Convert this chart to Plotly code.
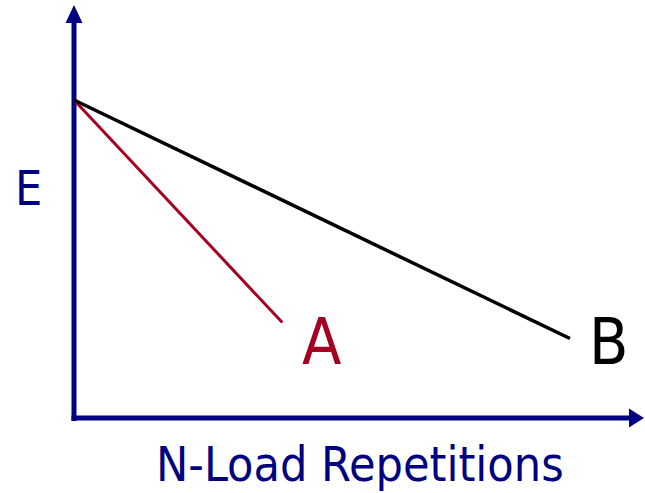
import plotly.graph_objects as go

# Data (abstract units): modulus E vs number of load repetitions N
n_start = [0.0]
e_start = [10.0]
series_names = ["A", "B"]
n_end = [4.2, 10.0]
e_end = [3.0, 2.5]
line_colors = ["#A50021", "#000000"]
axis_color = "#000080"
x_label = "N-Load Repetitions"
y_label = "E"

W, H = 645, 493
# pixel scale
px_x = 49.6   # px per N unit
px_y = 31.8   # px per E unit
ox, oy = 74, 418  # origin pixel
xr = [-ox / px_x, (W - ox) / px_x]
yr = [-(H - oy) / px_y, oy / px_y]

def dx(p):
    return p / px_x

def dy(p):
    return p / px_y

fig = go.Figure()
for name, ne, ee, c, w in zip(series_names, n_end, e_end, line_colors, [3, 3.5]):
    fig.add_trace(go.Scatter(x=[n_start[0], ne], y=[e_start[0], ee], mode="lines",
                             line=dict(color=c, width=w), showlegend=False, hoverinfo="skip"))

shapes = []
# y axis line and arrow
y_top = yr[1] - dy(5)
shapes.append(dict(type="line", x0=0, x1=0, y0=-dy(3), y1=y_top - dy(16),
                   line=dict(color=axis_color, width=5), layer="below"))
shapes.append(dict(type="path",
                   path=f"M {-dx(8.5)},{y_top - dy(18)} L {dx(8.5)},{y_top - dy(18)} L 0,{y_top} Z",
                   fillcolor=axis_color, line=dict(color=axis_color, width=0)))
# x axis line and arrow
x_tip = xr[1] - dx(1)
shapes.append(dict(type="line", x0=-dx(2.5), x1=x_tip - dx(12), y0=0, y1=0,
                   line=dict(color=axis_color, width=5), layer="below"))
shapes.append(dict(type="path",
                   path=f"M {x_tip - dx(15)},{dy(9.5)} L {x_tip - dx(15)},{-dy(9.5)} L {x_tip},0 Z",
                   fillcolor=axis_color, line=dict(color=axis_color, width=0)))

font_fam = "DejaVu Sans Condensed, Liberation Sans, DejaVu Sans"
annotations = [
    dict(x=n_end[0] + dx(39), y=e_end[0] - dy(19), text=series_names[0], showarrow=False,
         font=dict(family=font_fam, size=64, color=line_colors[0])),
    dict(x=n_end[1] + dx(39), y=e_end[1] - dy(3), text=series_names[1], showarrow=False,
         font=dict(family=font_fam, size=64, color=line_colors[1])),
    dict(x=-dx(46), y=dy(418 - 188), text=y_label, showarrow=False,
         font=dict(family=font_fam, size=48, color=axis_color)),
    dict(x=dx(360 - ox), y=-dy(464 - oy), text=x_label, showarrow=False,
         font=dict(family=font_fam, size=48, color=axis_color)),
]

fig.update_layout(
    width=W, height=H, margin=dict(l=0, r=0, t=0, b=0),
    paper_bgcolor="white", plot_bgcolor="white",
    xaxis=dict(range=xr, visible=False, fixedrange=True),
    yaxis=dict(range=yr, visible=False, fixedrange=True),
    shapes=shapes, annotations=annotations,
)
fig.write_html("out.html", config={"displayModeBar": False})

# remove the default page margin so the figure sits at the window's corner
with open("out.html", "r", encoding="utf-8") as f:
    html = f.read()
html = html.replace("<head>", "<head><style>html,body{margin:0;padding:0;overflow:hidden;}</style>", 1)
with open("out.html", "w", encoding="utf-8") as f:
    f.write(html)
